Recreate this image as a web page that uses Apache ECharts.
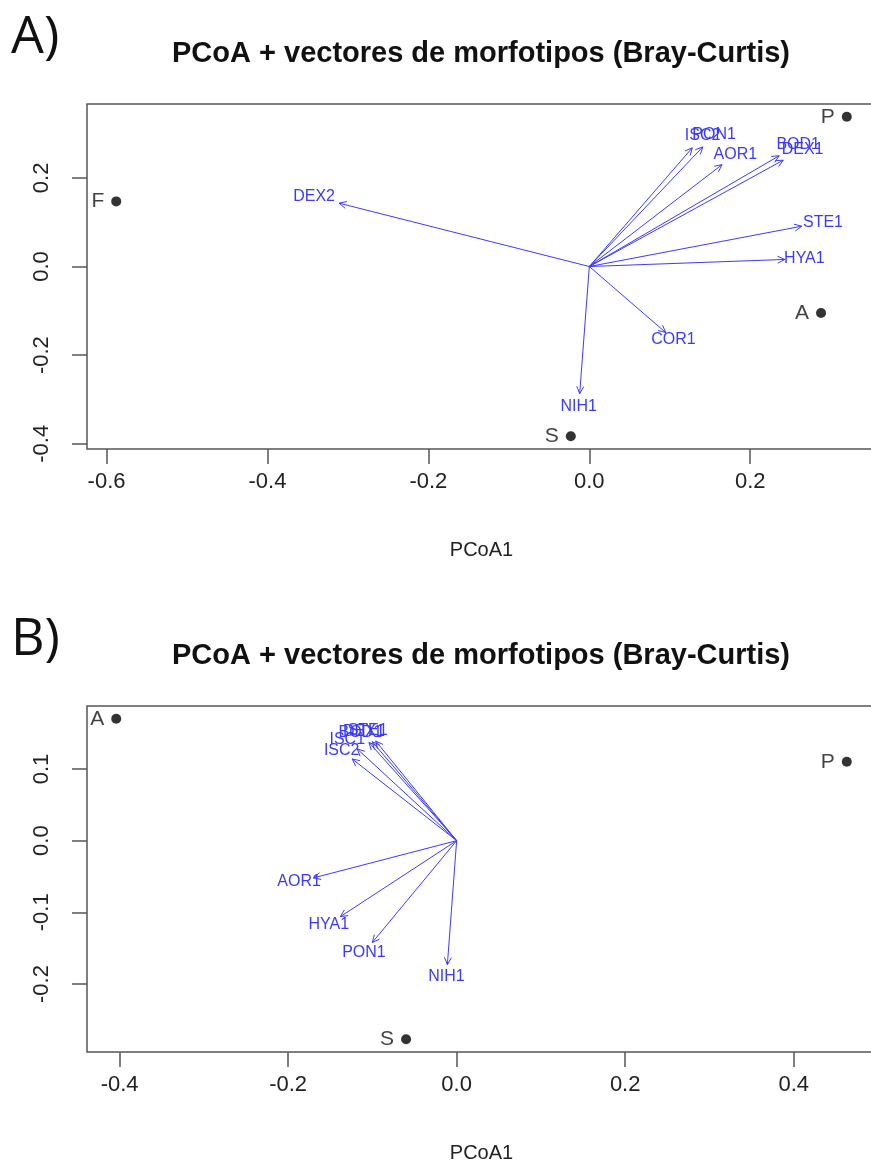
<!DOCTYPE html>
<html>
<head>
<meta charset="utf-8">
<title>PCoA + vectores de morfotipos</title>
<script src="https://cdn.jsdelivr.net/npm/echarts@6/dist/echarts.min.js"></script>
<style>
  html, body { margin: 0; padding: 0; background: #fff; overflow: hidden; }
  #chart { width: 871px; height: 1169px; }
</style>
</head>
<body>
<div id="chart"></div>
<script>
// ---- panel A ----
const sitesA = ['F', 'P', 'A', 'S']
const siteXA = [-0.588, 0.320, 0.288, -0.023]
const siteYA = [0.147, 0.338, -0.105, -0.383]
const vecNamesA = ['DEX2', 'ISC2', 'PON1', 'AOR1', 'BOD1', 'DEX1', 'STE1', 'HYA1', 'COR1', 'NIH1']
const vecXA = [-0.311, 0.128, 0.141, 0.165, 0.236, 0.241, 0.264, 0.243, 0.095, -0.012]
const vecYA = [0.143, 0.268, 0.270, 0.230, 0.250, 0.240, 0.091, 0.016, -0.149, -0.287]

// ---- panel B ----
const sitesB = ['A', 'P', 'S']
const siteXB = [-0.404, 0.463, -0.060]
const siteYB = [0.170, 0.110, -0.277]
const vecNamesB = ['AOR1', 'HYA1', 'PON1', 'NIH1', 'ISC2', 'ISC1', 'BOD1', 'DEX1', 'STE1']
const vecXB = [-0.170, -0.138, -0.100, -0.011, -0.124, -0.118, -0.104, -0.100, -0.096]
const vecYB = [-0.052, -0.106, -0.142, -0.173, 0.114, 0.128, 0.137, 0.138, 0.139]

const ticksXA = [-0.6, -0.4, -0.2, 0.0, 0.2]
const ticksYA = [-0.4, -0.2, 0.0, 0.2]
const ticksXB = [-0.4, -0.2, 0.0, 0.2, 0.4]
const ticksYB = [-0.2, -0.1, 0.0, 0.1]

const titleText = 'PCoA + vectores de morfotipos (Bray-Curtis)'
const LABEL_SCALE = 1.1 // vector labels sit a bit beyond the arrow tip
const FONT = "'Liberation Sans', Arial, sans-serif"

// R style: range of the points, widened 4% on both sides
function rRange(vals) {
  const lo = Math.min(...vals)
  const hi = Math.max(...vals)
  const pad = (hi - lo) * 0.04
  return [lo - pad, hi + pad]
}

function zip(xs, ys) {
  return xs.map((x, i) => [x, ys[i]])
}

function arrowRenderer(names) {
  return function (params, api) {
    const x = api.value(0)
    const y = api.value(1)
    const o = api.coord([0, 0])
    const t = api.coord([x, y])
    const l = api.coord([x * LABEL_SCALE, y * LABEL_SCALE])
    const ang = Math.atan2(t[1] - o[1], t[0] - o[0])
    const h = 8
    const a = Math.PI / 7
    const p1 = [t[0] - h * Math.cos(ang - a), t[1] - h * Math.sin(ang - a)]
    const p2 = [t[0] - h * Math.cos(ang + a), t[1] - h * Math.sin(ang + a)]
    const lineStyle = { stroke: '#3b3bff', lineWidth: 1, fill: null }
    return {
      type: 'group',
      children: [
        { type: 'line', shape: { x1: o[0], y1: o[1], x2: t[0], y2: t[1] }, style: lineStyle },
        { type: 'polyline', shape: { points: [p1, t, p2] }, style: lineStyle },
        {
          type: 'text',
          x: l[0],
          y: l[1],
          style: {
            text: names[params.dataIndex],
            fill: '#3a3aff',
            font: '16px ' + FONT,
            align: 'center',
            verticalAlign: 'middle'
          }
        }
      ]
    }
  }
}

function xAxisFor(idx, ticks, range) {
  return {
    gridIndex: idx,
    type: 'value',
    min: range[0],
    max: range[1],
    name: 'PCoA1',
    nameLocation: 'middle',
    nameGap: 91,
    nameTextStyle: { color: '#222', fontSize: 20, fontFamily: FONT },
    axisLine: { show: false, onZero: false },
    splitLine: { show: false },
    axisTick: { show: true, length: 15, customValues: ticks, lineStyle: { color: '#555', width: 1.5 } },
    axisLabel: {
      customValues: ticks,
      margin: 22,
      color: '#222',
      fontSize: 22,
      fontFamily: FONT,
      formatter: v => v.toFixed(1)
    }
  }
}

function yAxisFor(idx, ticks, range) {
  return {
    gridIndex: idx,
    type: 'value',
    min: range[0],
    max: range[1],
    axisLine: { show: false, onZero: false },
    splitLine: { show: false },
    axisTick: { show: true, length: 15, customValues: ticks, lineStyle: { color: '#555', width: 1.5 } },
    axisLabel: {
      customValues: ticks,
      rotate: 90,
      margin: 34,
      color: '#222',
      fontSize: 22,
      fontFamily: FONT,
      formatter: v => v.toFixed(1)
    }
  }
}

function sitesSeries(idx, names, xs, ys) {
  return {
    type: 'scatter',
    xAxisIndex: idx,
    yAxisIndex: idx,
    data: zip(xs, ys),
    symbolSize: 10,
    itemStyle: { color: '#000' },
    label: {
      show: true,
      position: 'left',
      distance: 7,
      color: '#111',
      fontSize: 21,
      fontFamily: FONT,
      formatter: p => names[p.dataIndex]
    },
    z: 5
  }
}

const xRangeA = rRange(siteXA)
const yRangeA = rRange(siteYA)
const xRangeB = rRange(siteXB)
const yRangeB = rRange(siteYB)

const chart = echarts.init(document.getElementById('chart'))

const gridBase = {
  left: 87,
  width: 789,
  show: true,
  borderColor: '#555',
  borderWidth: 1.5,
  backgroundColor: 'transparent',
  containLabel: false,
  outerBoundsMode: 'none'
}

const titleStyle = { fontSize: 29, fontWeight: 'bold', color: '#111', fontFamily: FONT }

const option = {
  backgroundColor: '#fff',
  animation: false,
  title: [
    { text: titleText, left: 476, top: 34, textAlign: 'center', textStyle: titleStyle },
    { text: titleText, left: 476, top: 636, textAlign: 'center', textStyle: titleStyle }
  ],
  graphic: [
    { type: 'text', left: 11, top: 12, style: { text: 'A)', font: "52px 'Open Sans', sans-serif", fill: '#111' } },
    { type: 'text', left: 11, top: 614, style: { text: 'B)', font: "52px 'Open Sans', sans-serif", fill: '#111' } }
  ],
  grid: [
    Object.assign({}, gridBase, { top: 104, height: 345 }),
    Object.assign({}, gridBase, { top: 706, height: 346 })
  ],
  xAxis: [xAxisFor(0, ticksXA, xRangeA), xAxisFor(1, ticksXB, xRangeB)],
  yAxis: [yAxisFor(0, ticksYA, yRangeA), yAxisFor(1, ticksYB, yRangeB)],
  series: [
    {
      type: 'custom',
      xAxisIndex: 0,
      yAxisIndex: 0,
      data: zip(vecXA, vecYA),
      renderItem: arrowRenderer(vecNamesA)
    },
    sitesSeries(0, sitesA, siteXA, siteYA),
    {
      type: 'custom',
      xAxisIndex: 1,
      yAxisIndex: 1,
      data: zip(vecXB, vecYB),
      renderItem: arrowRenderer(vecNamesB)
    },
    sitesSeries(1, sitesB, siteXB, siteYB)
  ]
}

chart.setOption(option)
</script>
</body>
</html>
